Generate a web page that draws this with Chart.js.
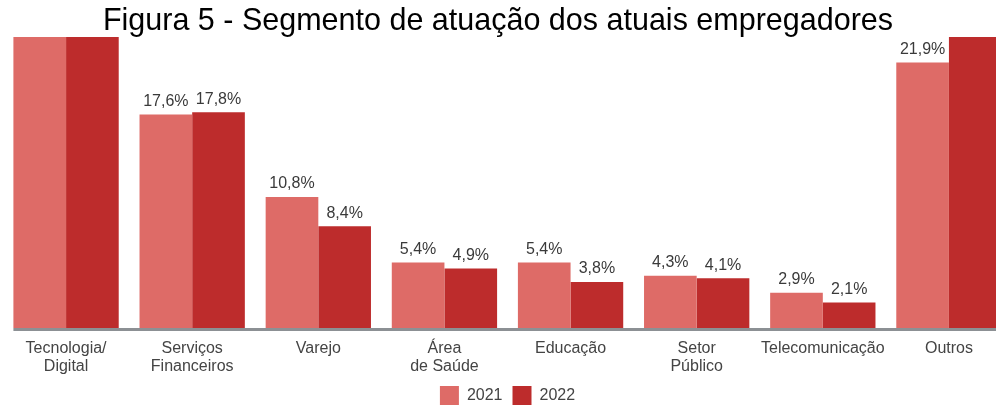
<!DOCTYPE html>
<html>
<head>
<meta charset="utf-8">
<script src="https://cdn.jsdelivr.net/npm/chart.js@4.4.1/dist/chart.umd.min.js"></script>
<style>
  html, body { margin: 0; padding: 0; background: #fff; overflow: hidden; }
  #wrap { position: relative; width: 996px; height: 406px; overflow: hidden; }
  #title {
    position: absolute; left: 0; top: 0; width: 996px; text-align: center;
    font-family: "Liberation Sans", Arial, sans-serif; font-size: 30.5px; line-height: 38px;
    color: #000; z-index: 2;
  }
  #chart { position: absolute; left: 0; top: 0; }
</style>
</head>
<body>
<div id="wrap">
  <div id="title">Figura 5 - Segmento de atuação dos atuais empregadores</div>
  <canvas id="chart" width="1026" height="415"></canvas>
</div>
<script>
  // segmentos (categorias)
  const categories = [
    ['Tecnologia/', 'Digital'],
    ['Serviços', 'Financeiros'],
    'Varejo',
    ['Área', 'de Saúde'],
    'Educação',
    ['Setor', 'Público'],
    'Telecomunicação',
    'Outros'
  ];
  // % por ano; Tecnologia e Outros 2022 saem cortados no topo da figura
  const values2021 = [31.7, 17.6, 10.8, 5.4, 5.4, 4.3, 2.9, 21.9];
  const values2022 = [33.5, 17.8, 8.4, 4.9, 3.8, 4.1, 2.1, 25.4];
  const seriesNames = ['2021', '2022'];
  const yMax = 24;

  const fontFamily = '"Liberation Sans", Arial, sans-serif';

  const valueLabels = {
    id: 'valueLabels',
    afterDatasetsDraw(chart) {
      let ctx = chart.ctx;
      ctx.save();
      ctx.font = '16px ' + fontFamily;
      ctx.fillStyle = '#3a3a3a';
      ctx.textAlign = 'center';
      ctx.textBaseline = 'bottom';
      chart.data.datasets.forEach(function(ds, i) {
        chart.getDatasetMeta(i).data.forEach(function(bar, j) {
          let v = ds.data[j];
          if (v >= yMax) return;
          ctx.fillText(v.toFixed(1).replace('.', ',') + '%', bar.x, bar.y - 5);
        });
      });
      ctx.restore();
    }
  };

  // linha de base: começa na primeira barra, como no original
  const baseLine = {
    id: 'baseLine',
    afterDatasetsDraw(chart) {
      let ctx = chart.ctx,
        first = chart.getDatasetMeta(0).data[0],
        y = chart.chartArea.bottom + 1.5;
      ctx.save();
      ctx.strokeStyle = '#8c9094';
      ctx.lineWidth = 3;
      ctx.beginPath();
      ctx.moveTo(first.x - first.width / 2, y);
      ctx.lineTo(chart.width, y);
      ctx.stroke();
      ctx.restore();
    }
  };

  new Chart(document.getElementById('chart').getContext('2d'), {
    type: 'bar',
    data: {
      labels: categories,
      datasets: [
        { label: seriesNames[0], data: values2021, backgroundColor: '#de6b67' },
        { label: seriesNames[1], data: values2022, backgroundColor: '#bd2c2c' }
      ]
    },
    options: {
      responsive: false,
      animation: false,
      layout: { padding: { left: 3, right: 14, top: 37, bottom: 0 } },
      datasets: { bar: { categoryPercentage: 0.835, barPercentage: 1 } },
      scales: {
        x: {
          grid: { display: false, drawTicks: false },
          border: { display: false },
          afterFit: function(scale) { scale.height = 48; },
          ticks: {
            padding: 11,
            color: '#444',
            maxRotation: 0,
            autoSkip: false,
            font: { family: fontFamily, size: 16, lineHeight: 1.15 }
          }
        },
        y: {
          display: false,
          min: 0,
          max: yMax
        }
      },
      plugins: {
        legend: {
          position: 'bottom',
          labels: {
            boxWidth: 19,
            boxHeight: 19,
            padding: 10,
            color: '#444',
            font: { family: fontFamily, size: 16 }
          }
        },
        tooltip: { enabled: false }
      }
    },
    plugins: [valueLabels, baseLine]
  });
</script>
</body>
</html>
